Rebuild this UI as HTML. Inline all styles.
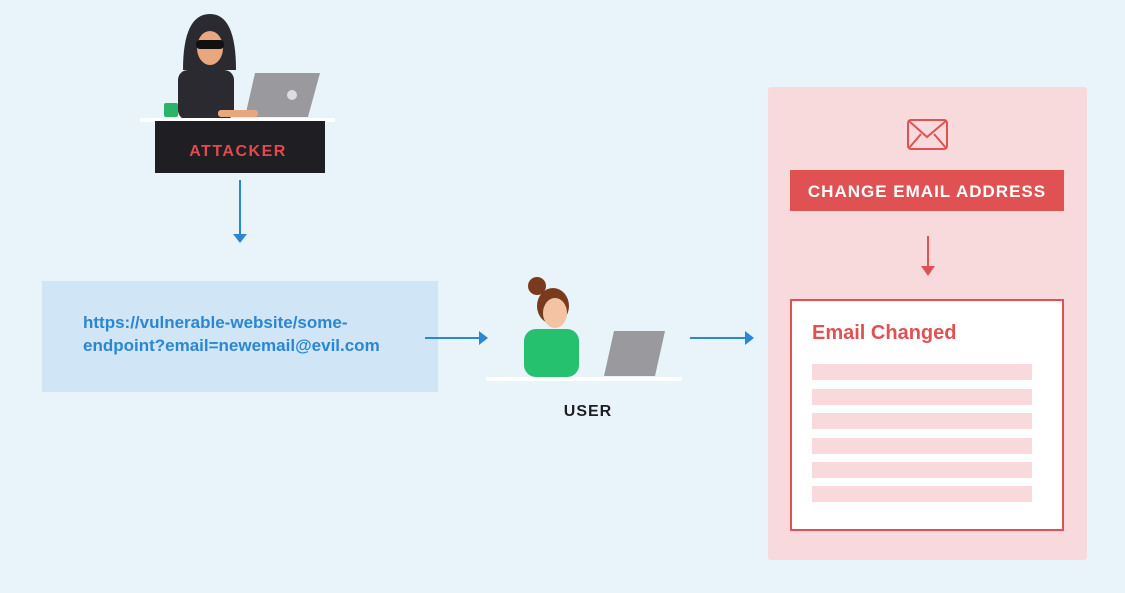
<!DOCTYPE html>
<html><head><style>
body{margin:0;width:1125px;height:593px;background:#e9f3fa;position:relative;overflow:hidden;font-family:"Liberation Sans",sans-serif}
.a{position:absolute}
.t{font-weight:bold}
</style></head><body>
<svg class="a" style="left:0;top:0" width="1125" height="593">
 <!-- attacker -->
 <path d="M183 70 Q183 14 210 14 Q236 14 236 70 Z" fill="#2a2a30"/>
 <rect x="178" y="70" width="56" height="50" rx="10" fill="#2a2a30"/>
 <ellipse cx="210" cy="48" rx="13" ry="17" fill="#e9a77f"/>
 <rect x="196" y="40" width="28" height="9" rx="4" fill="#111"/>
 <rect x="164" y="103" width="14" height="14" rx="2" fill="#2bb36a"/>
 <path d="M255 73 L320 73 L308 117 L245 117 Z" fill="#9a9a9e"/>
 <circle cx="292" cy="95" r="5" fill="#ddd"/>
 <rect x="218" y="110" width="40" height="7" rx="3" fill="#e9a77f"/>
 <rect x="140" y="118" width="195" height="4" fill="#fff"/>
 <rect x="155" y="121" width="170" height="52" fill="#1f1e22"/>
 <text x="238" y="156" text-anchor="middle" font-size="16" font-weight="bold" fill="#e5484d" letter-spacing="1.5" font-family="Liberation Sans">ATTACKER</text>
 <rect x="42" y="281" width="396" height="111" fill="#d0e5f5"/>
 <!-- arrows -->
 <g stroke="#2b87d1" stroke-width="2" fill="#2b87d1">
  <line x1="240" y1="180" x2="240" y2="236"/><path d="M233 234 L247 234 L240 243 Z" stroke="none"/>
  <line x1="425" y1="338" x2="480" y2="338"/><path d="M479 331 L479 345 L488 338 Z" stroke="none"/>
  <line x1="690" y1="338" x2="746" y2="338"/><path d="M745 331 L745 345 L754 338 Z" stroke="none"/>
 </g>
 <!-- user -->
 <circle cx="537" cy="286" r="9" fill="#7a3a1e"/>
 <ellipse cx="553" cy="306" rx="16" ry="18" fill="#7a3a1e"/>
 <ellipse cx="555" cy="313" rx="12" ry="15" fill="#f4c3a3"/>
 <rect x="524" y="329" width="55" height="48" rx="12" fill="#25c16f"/>
 <path d="M614 331 L665 331 L655 376 L604 376 Z" fill="#9a9a9e"/>
 <rect x="486" y="377" width="196" height="4" fill="#fff"/>
 <text x="588" y="416" text-anchor="middle" font-size="16" font-weight="bold" fill="#1f1e22" letter-spacing="1" font-family="Liberation Sans">USER</text>
 <!-- panel -->
 <rect x="768" y="87" width="319" height="473" rx="3" fill="#f8dadc"/>
 <g fill="none" stroke="#e05153" stroke-width="2"><rect x="908" y="120" width="39" height="29" rx="3"/><path d="M909 121 L927 137 L946 121 M909 148 L921 134 M946 148 L934 134"/></g>
 <rect x="790" y="170" width="274" height="41" fill="#e05153"/>
 <text x="927" y="197" text-anchor="middle" font-size="17" font-weight="bold" fill="#fff" letter-spacing="1" font-family="Liberation Sans">CHANGE EMAIL ADDRESS</text>
 <line x1="928" y1="236" x2="928" y2="268" stroke="#e05153" stroke-width="2"/><path d="M921 266 L935 266 L928 276 Z" fill="#e05153"/>
 <rect x="791" y="300" width="272" height="230" fill="#fff" stroke="#e05153" stroke-width="2"/>
 <text x="812" y="339" font-size="20" font-weight="bold" fill="#e05153" font-family="Liberation Sans">Email Changed</text>
 <g fill="#f8dadc"><rect x="812" y="364" width="220" height="16"/><rect x="812" y="389" width="220" height="16"/><rect x="812" y="413" width="220" height="16"/><rect x="812" y="438" width="220" height="16"/><rect x="812" y="462" width="220" height="16"/><rect x="812" y="486" width="220" height="16"/></g>
</svg>
<div class="a t" style="left:83px;top:311px;font-size:17px;line-height:23px;color:#2b87d1">https://vulnerable-website/some-<br>endpoint?email=newemail@evil.com</div>
</body></html>
